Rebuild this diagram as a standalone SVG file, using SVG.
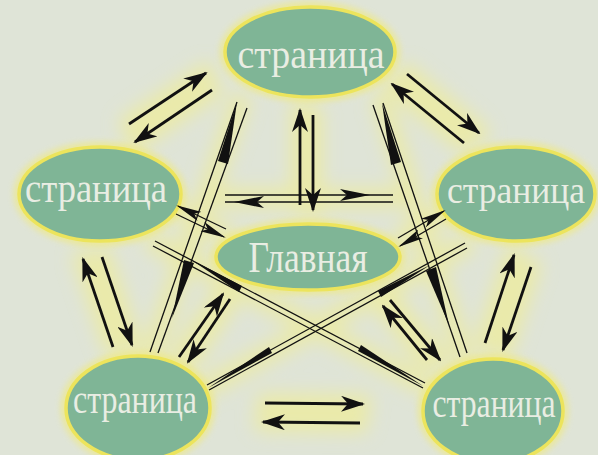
<svg xmlns="http://www.w3.org/2000/svg" width="598" height="455" viewBox="0 0 598 455">
<style>
.node{fill:#7fb596;stroke:#ece45c;stroke-width:3.5}
.halo{fill:none;stroke:#f2ee8c;stroke-width:20;opacity:0.6;stroke-linecap:round}
.lbl{font-family:"Liberation Serif","DejaVu Serif",serif;fill:#e9ede3;text-anchor:middle}
.a{stroke:#111;stroke-width:2.8;fill:none;marker-end:url(#ah)}
.t{stroke:#111;stroke-width:1.3;fill:none}
.w{fill:#111}
</style>
<defs>
<filter id="blur" x="-30%" y="-30%" width="160%" height="160%"><feGaussianBlur stdDeviation="9"/></filter>
<filter id="nblur" x="-30%" y="-30%" width="160%" height="160%"><feGaussianBlur stdDeviation="3"/></filter>
<marker id="ah" viewBox="0 0 24 16" refX="22" refY="8" markerWidth="24" markerHeight="16" markerUnits="userSpaceOnUse" orient="auto">
<path d="M0,0 L24,8 L0,16 L7,8 z" fill="#111"/>
</marker>
<marker id="ahs" viewBox="0 0 26 10" refX="24" refY="5" markerWidth="26" markerHeight="10" markerUnits="userSpaceOnUse" orient="auto">
<path d="M0,0 L26,5 L0,10 L6,5 z" fill="#111"/>
</marker>
</defs>
<rect width="598" height="455" fill="#dfe4d7"/>
<g id="glow" filter="url(#blur)">
<path class="halo" d="M129,124 L206,73 M212,90 L135,142 M407,74 L479,133 M464,143 L392,84 M113,347 L83,259 M102,257 L132,345 M485,343 L514,255 M531,267 L503,350 M265,403 L363,404 M360,423 L263,422 M300,205 L300,110 M313,115 L313,210 M225,198 L393,198 M179,357 L223,294 M230,299 L188,362 M427,360 L383,306 M390,300 L440,360 M155,243 L425,385 M465,245 L207,387 M240,103 L152,352 M382,103 L463,355 M178,210 L228,236 M400,240 L445,213"/>
</g>
<g filter="url(#nblur)" fill="none" stroke="#f1ea7a" stroke-width="8" opacity="0.7">
<ellipse cx="310" cy="52" rx="86" ry="46"/><ellipse cx="100" cy="194" rx="82" ry="48"/><ellipse cx="516" cy="194" rx="80" ry="48"/><ellipse cx="308" cy="257" rx="93" ry="34"/><ellipse cx="138" cy="408" rx="73" ry="53"/><ellipse cx="493" cy="411" rx="71" ry="53"/>
</g>
<g id="n-top"><ellipse class="node" cx="310" cy="52" rx="85" ry="45"/><text class="lbl" x="311" y="68" font-size="39" textLength="147" lengthAdjust="spacingAndGlyphs">страница</text></g>
<g id="n-left"><ellipse class="node" cx="100" cy="194" rx="81" ry="47"/><text class="lbl" x="96" y="202" font-size="39" textLength="142" lengthAdjust="spacingAndGlyphs">страница</text></g>
<g id="n-right"><ellipse class="node" cx="516" cy="194" rx="79" ry="47"/><text class="lbl" x="516" y="203" font-size="38" textLength="138" lengthAdjust="spacingAndGlyphs">страница</text></g>
<g id="n-main"><ellipse class="node" cx="308" cy="257" rx="92" ry="33"/><text class="lbl" x="308" y="272" font-size="45" textLength="119" lengthAdjust="spacingAndGlyphs">Главная</text></g>
<g id="n-bl"><ellipse class="node" cx="138" cy="408" rx="72" ry="52"/><text class="lbl" x="135" y="413" font-size="39" textLength="124" lengthAdjust="spacingAndGlyphs">страница</text></g>
<g id="n-br"><ellipse class="node" cx="493" cy="411" rx="70" ry="52"/><text class="lbl" x="494" y="417" font-size="39" textLength="123" lengthAdjust="spacingAndGlyphs">страница</text></g>
<g id="connectors">
<line class="a" x1="129" y1="124" x2="206" y2="73"/>
<line class="a" x1="212" y1="90" x2="135" y2="142"/>
<line class="a" x1="407" y1="74" x2="479" y2="133"/>
<line class="a" x1="464" y1="143" x2="392" y2="84"/>
<line class="a" x1="113" y1="347" x2="83" y2="259"/>
<line class="a" x1="102" y1="257" x2="132" y2="345"/>
<line class="a" x1="485" y1="343" x2="514" y2="255"/>
<line class="a" x1="531" y1="267" x2="503" y2="350"/>
<line class="a" x1="265" y1="403" x2="363" y2="404"/>
<line class="a" x1="360" y1="423" x2="263" y2="422"/>
<line class="a" x1="300" y1="205" x2="300" y2="110"/>
<line class="a" x1="313" y1="115" x2="313" y2="210"/>
<line class="a" x1="179" y1="357" x2="223" y2="294"/>
<line class="a" x1="230" y1="299" x2="188" y2="362"/>
<line class="a" x1="427" y1="360" x2="383" y2="306"/>
<line class="a" x1="390" y1="300" x2="440" y2="360"/>
<line class="t" x1="225" y1="195" x2="393" y2="195" stroke-width="1.6"/>
<line class="t" x1="225" y1="202" x2="393" y2="202" stroke-width="1.6"/>
<path class="w" d="M340,189 L370,195 L340,201 L347,195 z"/>
<path class="w" d="M264,196 L234,202 L264,208 L257,202 z"/>
<line class="t" x1="226" y1="229" x2="178" y2="206" marker-end="url(#ahs)"/>
<line class="t" x1="176" y1="214" x2="224" y2="237" marker-end="url(#ahs)"/>
<line class="t" x1="398" y1="238" x2="444" y2="211" marker-end="url(#ahs)"/>
<line class="t" x1="446" y1="219" x2="400" y2="246" marker-end="url(#ahs)"/>
<line class="t" x1="155" y1="241" x2="425" y2="383"/>
<line class="t" x1="153" y1="246" x2="423" y2="388"/>
<path class="w" d="M190,259 L242,286 L239,292 z"/>
<path class="w" d="M423,386 L358,351 L361,345 z"/>
<line class="t" x1="465" y1="243" x2="207" y2="385"/>
<line class="t" x1="467" y1="248" x2="209" y2="390"/>
<path class="w" d="M430,265 L378,291 L381,297 z"/>
<path class="w" d="M208,388 L272,353 L269,347 z"/>
<line class="t" x1="237" y1="102" x2="150" y2="352" stroke-width="1.8"/>
<line class="t" x1="247" y1="108" x2="158" y2="353" stroke-width="1.8"/>
<path class="w" d="M237,102 L228,164 L218,161 z"/>
<path class="w" d="M172,318 L184,260 L194,263 z"/>
<line class="t" x1="373" y1="105" x2="460" y2="357" stroke-width="1.8"/>
<line class="t" x1="383" y1="103" x2="467" y2="353" stroke-width="1.8"/>
<path class="w" d="M382,103 L401,162 L391,165 z"/>
<path class="w" d="M449,325 L426,271 L436,267 z"/>
</g>
</svg>
